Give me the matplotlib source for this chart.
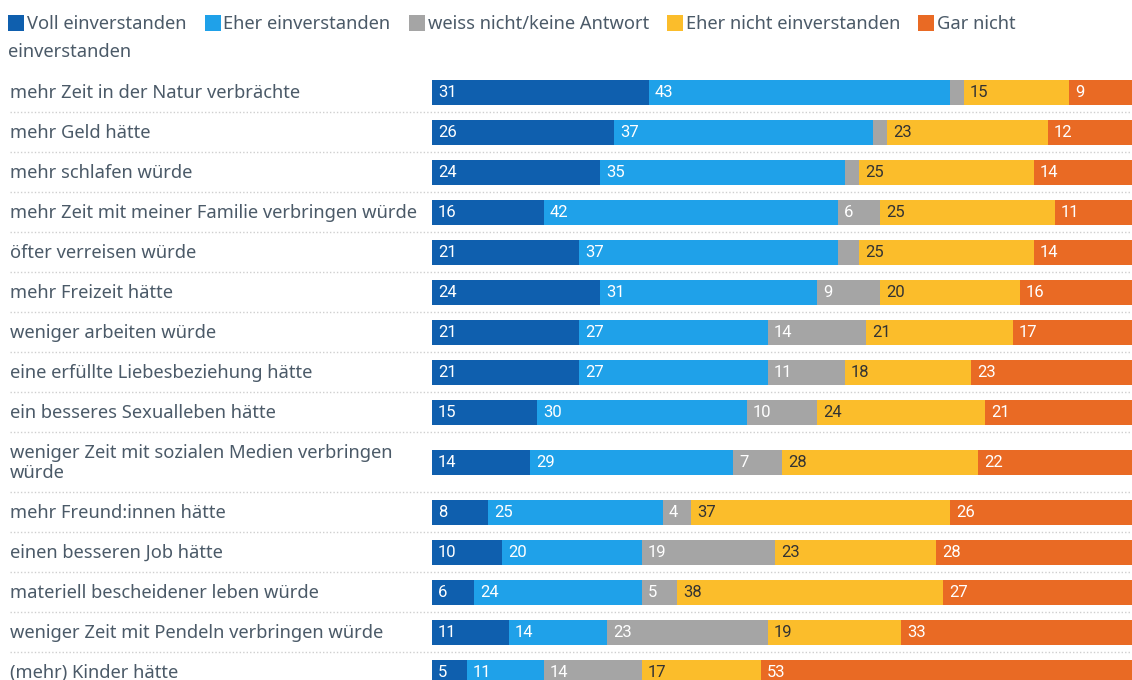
import matplotlib
matplotlib.use("Agg")
import matplotlib.pyplot as plt
from matplotlib.patches import Rectangle
from matplotlib.transforms import blended_transform_factory

categories = [
    "mehr Zeit in der Natur verbrächte",
    "mehr Geld hätte",
    "mehr schlafen würde",
    "mehr Zeit mit meiner Familie verbringen würde",
    "öfter verreisen würde",
    "mehr Freizeit hätte",
    "weniger arbeiten würde",
    "eine erfüllte Liebesbeziehung hätte",
    "ein besseres Sexualleben hätte",
    "weniger Zeit mit sozialen Medien verbringen\nwürde",
    "mehr Freund:innen hätte",
    "einen besseren Job hätte",
    "materiell bescheidener leben würde",
    "weniger Zeit mit Pendeln verbringen würde",
    "(mehr) Kinder hätte",
]
series_names = ["Voll einverstanden", "Eher einverstanden", "weiss nicht/keine Antwort",
                "Eher nicht einverstanden", "Gar nicht einverstanden"]
voll = [31, 26, 24, 16, 21, 24, 21, 21, 15, 14, 8, 10, 6, 11, 5]
eher = [43, 37, 35, 42, 37, 31, 27, 27, 30, 29, 25, 20, 24, 14, 11]
weiss = [2, 2, 2, 6, 3, 9, 14, 11, 10, 7, 4, 19, 5, 23, 14]
eher_nicht = [15, 23, 25, 25, 25, 20, 21, 18, 24, 28, 37, 23, 38, 19, 17]
gar_nicht = [9, 12, 14, 11, 14, 16, 17, 23, 21, 22, 26, 28, 27, 33, 53]

colors = ["#0f5fae", "#1fa1e9", "#a5a5a5", "#fbbd2b", "#e96a24"]
text_colors = ["white", "white", "white", "#333333", "white"]
label_color = "#4b5a68"
FS = 13.2

W, H = 1132, 680
fig = plt.figure(figsize=(W / 100, H / 100), dpi=100)
ax = fig.add_axes([432 / W, 0, 700 / W, 1])
ax.set_xlim(0, 100)
ax.set_ylim(H, 0)
ax.axis("off")

# row layout (pixel units on y): two-line labels get a taller row
top = 72
centers = []
bounds = []
for c in categories:
    h = 60 if "\n" in c else 40
    centers.append(top + h / 2)
    top += h
    bounds.append(top)

trans = blended_transform_factory(fig.transFigure, ax.transData)

for y in bounds[:-1]:
    ax.plot([10 / W, 1], [y, y], transform=trans, color="#cfcfcf",
            linestyle=(0, (1, 1.5)), linewidth=1, clip_on=False)

series = [voll, eher, weiss, eher_nicht, gar_nicht]
left = [0] * len(categories)
for vals, col, tcol in zip(series, colors, text_colors):
    ax.barh(centers, vals, left=left, height=25, color=col, linewidth=0)
    for y, l, v in zip(centers, left, vals):
        if v >= 4:
            ax.text(l + 0.85, y + 0.5, str(v), va="center", ha="left",
                    color=tcol, fontsize=12, family="Roboto")
    left = [a + b for a, b in zip(left, vals)]

for y, c in zip(centers, categories):
    ax.text(10 / W, y + 1, c, transform=trans, va="center", ha="left",
            fontsize=FS, color=label_color, family="Noto Sans", linespacing=1.2)

# legend, flowing left to right with word wrap
renderer = fig.canvas.get_renderer()
x, line_y = 8, 23
for name, col in zip(series_names, colors):
    fig.add_artist(Rectangle((x / W, 1 - (line_y + 8) / H), 16 / W, 16 / H,
                             transform=fig.transFigure, color=col, linewidth=0))
    tx = x + 19
    words = name.split(" ")
    cur = ""
    for w in words:
        trial = (cur + " " + w).strip()
        t = fig.text(tx / W, 1 - (line_y + 1) / H, trial, fontsize=FS, color=label_color,
                     family="Noto Sans", va="center")
        wd = t.get_window_extent(renderer).width
        t.remove()
        if tx + wd > 1125 and cur:
            fig.text(tx / W, 1 - (line_y + 1) / H, cur, fontsize=FS, color=label_color,
                     family="Noto Sans", va="center")
            line_y += 28
            tx = 8
            cur = w
        else:
            cur = trial
    t = fig.text(tx / W, 1 - (line_y + 1) / H, cur, fontsize=FS, color=label_color,
                 family="Noto Sans", va="center")
    x = tx + t.get_window_extent(renderer).width + 18

fig.savefig("out.png", dpi=100)
